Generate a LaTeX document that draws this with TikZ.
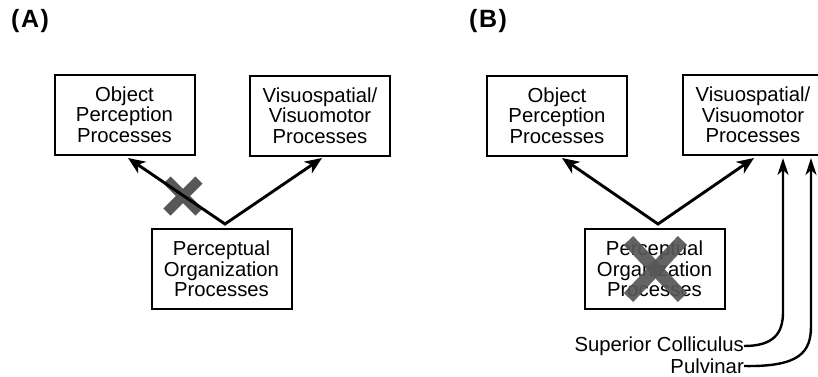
\documentclass[tikz,border=0pt]{standalone}
\usepackage{fontspec}
\setmainfont{Liberation Sans}
\usetikzlibrary{arrows.meta,calc}
\begin{document}
\begin{tikzpicture}[x=1pt,y=-1pt,
  proc/.style={draw, line width=2pt, minimum width=140pt, minimum height=80pt,
    align=center, inner sep=0pt, font=\fontsize{20.3}{20.7}\selectfont},
  link/.style={line width=2.9pt, line join=miter,
    {Stealth[length=17pt,width=14pt,inset=5pt]}-{Stealth[length=17pt,width=14pt,inset=5pt]}},
  feed/.style={line width=2.4pt, -{Stealth[length=17pt,width=11pt,inset=5pt]}},
  lesion/.style={draw=black!66, line width=#1},
  panel/.style={anchor=west, inner sep=0pt, font=\bfseries\fontsize{25}{25}\selectfont},
  tag/.style={anchor=east, inner sep=0pt, font=\fontsize{20.3}{20}\selectfont}]
\useasboundingbox (0,0) rectangle (818,376);
\clip (0,0) rectangle (818,376);

% ---- panel A ----
\node[panel] (labA) at (11,21) {(\kern1.5pt A\kern1.5pt)};
\node[proc] (objA) at (124.5,114.5) {Object\\Perception\\Processes};
\node[proc] (visA) at (320,115.5) {Visuospatial/\\Visuomotor\\Processes};
\node[proc] (perA) at (221.5,269) {Perceptual\\Organization\\Processes};
\coordinate (apexA) at (225,224);
\coordinate (tipA1) at (128,158);
\coordinate (tipA2) at (322,158);
% lesion mark on the ventral route
\coordinate (xA) at (183,196);
\draw[lesion=10pt] ($(xA)+(-16,-16)$) -- ($(xA)+(16,16)$);
\draw[lesion=10pt] ($(xA)+(-16,16)$) -- ($(xA)+(16,-16)$);
\draw[link] (tipA1) -- (apexA) -- (tipA2);

% ---- panel B ----
\node[panel] (labB) at (469,21) {(\kern1.5pt B\kern1.5pt)};
\node[proc] (objB) at (557,115.5) {Object\\Perception\\Processes};
\node[proc] (visB) at (753,115) {Visuospatial/\\Visuomotor\\Processes};
\node[proc] (perB) at (654.5,269) {Perceptual\\Organization\\Processes};
\coordinate (apexB) at (658,224);
\coordinate (tipB1) at (562,158);
\coordinate (tipB2) at (754,158);
\draw[link] (tipB1) -- (apexB) -- (tipB2);
% lesion mark over the grouping stage
\coordinate (xB) at (655.5,269);
\begin{scope}[opacity=0.93]
\draw[lesion=13pt] ($(xB)+(-27,-28.5)$) -- ($(xB)+(27,28.5)$);
\draw[lesion=13pt] ($(xB)+(-27,28.5)$) -- ($(xB)+(27,-28.5)$);
\end{scope}

% subcortical inputs
\node[tag] (sc) at (744,346) {Superior Colliculus};
\node[tag] (pv) at (744,366) {Pulvinar};
\coordinate (tipSC) at (783,158);
\coordinate (tipPV) at (811,158);
\draw[feed] (sc.east) .. controls (774,346) and (783,333) .. (783,312) -- (tipSC);
\draw[feed] (pv.east) .. controls (800,367) and (811,352) .. (811,326) -- (tipPV);
\end{tikzpicture}
\end{document}
